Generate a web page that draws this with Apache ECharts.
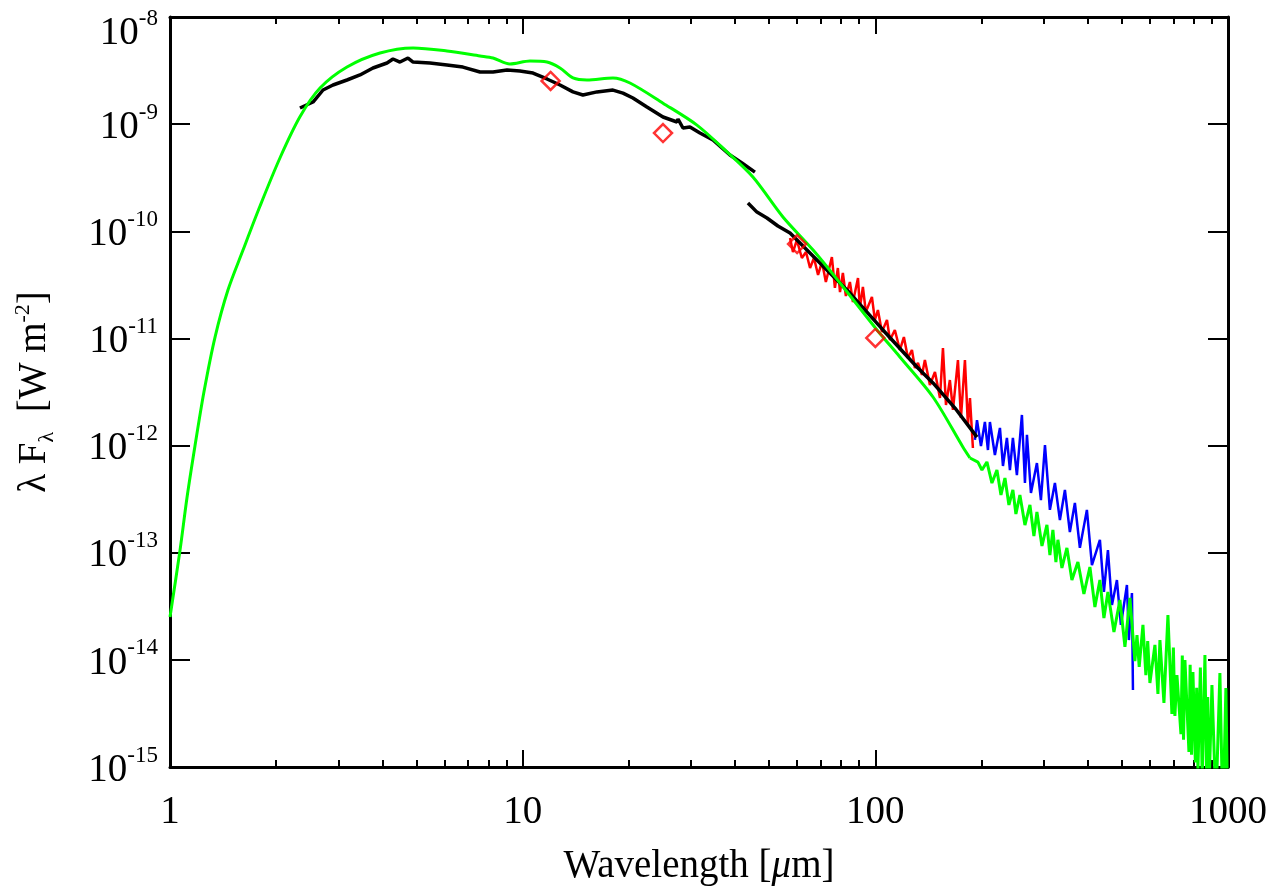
<!DOCTYPE html>
<html>
<head>
<meta charset="utf-8">
<script src="https://cdn.jsdelivr.net/npm/echarts@6/dist/echarts.min.js"></script>
<style>html,body{margin:0;padding:0;background:#fff}#c{width:1283px;height:894px}</style>
</head>
<body>
<div id="c"></div>
<script>
// ---------- tick values ----------
const xTickValues = [1, 10, 100, 1000];
const xMinorTickValues = [2,3,4,5,6,7,8,9,20,30,40,50,60,70,80,90,200,300,400,500,600,700,800,900];
const yTickValues = [1e-15, 1e-14, 1e-13, 1e-12, 1e-11, 1e-10, 1e-9, 1e-8];

// ---------- data: [wavelength (um), lambda*F_lambda (W m^-2)] ----------
const modelSmooth = [
  [1.0, 2.51e-14], [1.067, 1.04e-13], [1.117, 3.24e-13], [1.177, 9.9e-13],
  [1.248, 3.16e-12], [1.342, 1.03e-11], [1.460, 2.83e-11], [1.611, 6.68e-11],
  [1.80, 1.72e-10], [2.05, 4.83e-10], [2.336, 1.17e-9],
  [2.663, 2.17e-9], [3.176, 3.41e-9], [3.94, 4.61e-9], [4.89, 5.14e-9],
  [6.10, 4.82e-9], [7.57, 4.33e-9], [8.24, 4.14e-9], [9.20, 3.64e-9],
  [10.49, 3.88e-9], [11.72, 3.80e-9], [12.76, 3.34e-9], [13.89, 2.70e-9],
  [15.22, 2.58e-9], [18.03, 2.70e-9], [20.15, 2.42e-9], [25.0, 1.57e-9],
  [31.2, 9.8e-10], [37.7, 5.62e-10], [44.97, 3.21e-10], [54.7, 1.36e-10],
  [66.6, 6.68e-11], [79.4, 3.29e-11], [101.1, 1.20e-11], [117.4, 6.71e-12],
  [145.7, 2.84e-12], [177.1, 9.7e-13], [185.5, 7.66e-13]
];
const modelNoisy = [
  [185.5, 7.66e-13], [195.4, 7.0e-13], [200.6, 5.91e-13], [207.2, 7.03e-13],
  [214.1, 4.47e-13], [221.2, 5.91e-13], [227.1, 3.46e-13], [233.1, 4.98e-13],
  [239.2, 2.79e-13], [245.5, 3.85e-13], [250.4, 2.30e-13], [257.0, 3.46e-13],
  [265.6, 1.81e-13], [274.4, 2.79e-13], [281.6, 1.43e-13], [287.2, 2.40e-13],
  [296.8, 1.155e-13], [306.6, 1.82e-13], [312.6, 9.52e-14], [318.8, 1.63e-13],
  [325.1, 8.19e-14], [329.4, 1.32e-13], [338.1, 7.20e-14], [349.3, 1.11e-13],
  [360.9, 5.56e-14], [375.3, 8.19e-14], [390.3, 4.12e-14], [405.9, 7.36e-14],
  [419.4, 3.11e-14], [433.3, 5.56e-14], [444.8, 2.46e-14], [456.6, 4.30e-14],
  [474.9, 1.82e-14], [493.8, 3.62e-14], [510.2, 1.32e-14], [527.1, 3.78e-14],
  [544.5, 9.75e-15], [552.0, 1.70e-14], [560.0, 8.6e-15], [573.9, 2.12e-14],
  [585.0, 7.2e-15], [592.0, 1.50e-14], [600.6, 6.08e-15], [620.6, 1.38e-14],
  [632.9, 4.80e-15], [641.2, 1.53e-14], [658.2, 3.96e-15], [675.6, 2.62e-14],
  [693.4, 3.12e-15], [700.0, 1.30e-14], [707.0, 3.0e-15], [716.5, 7.22e-15],
  [735.5, 2.03e-15], [742.0, 1.10e-14], [748.0, 1.8e-15], [754.9, 9.96e-15],
  [774.9, 1.38e-15], [781.0, 9.0e-15], [788.0, 1.3e-15], [795.4, 7.71e-15],
  [808.0, 1.1e-15], [815.0, 5.5e-15], [821.8, 9.37e-16], [835.0, 8.5e-15],
  [845.0, 8.0e-16], [860.2, 1.11e-14], [870.0, 7.0e-16], [876.0, 4.5e-15],
  [883.0, 5.84e-16], [900.5, 5.82e-15], [924.1, 4.32e-16], [948.5, 7.53e-15],
  [967.2, 3.20e-16], [986.3, 5.46e-15], [1000, 2.58e-16]
];
const swsSpectrum = [
  [2.336, 1.414e-9], [2.544, 1.609e-9], [2.716, 2.083e-9], [2.899, 2.319e-9],
  [3.176, 2.582e-9], [3.457, 2.876e-9], [3.763, 3.342e-9], [4.124, 3.72e-9],
  [4.289, 4.055e-9], [4.488, 3.80e-9], [4.730, 4.14e-9], [4.89, 3.80e-9],
  [5.46, 3.72e-9], [6.10, 3.565e-9], [6.77, 3.41e-9], [7.57, 3.066e-9],
  [8.24, 3.066e-9], [9.03, 3.20e-9], [9.82, 3.13e-9], [10.70, 3.00e-9],
  [11.72, 2.64e-9], [12.76, 2.32e-9], [13.89, 2.00e-9], [14.82, 1.87e-9],
  [16.24, 2.00e-9], [18.03, 2.08e-9], [19.25, 1.95e-9], [20.54, 1.754e-9],
  [22.51, 1.445e-9], [25.0, 1.166e-9], [27.39, 1.047e-9], [27.57, 1.117e-9],
  [28.48, 9.20e-10], [29.81, 9.40e-10], [31.82, 8.27e-10], [34.64, 7.11e-10],
  [38.7, 5.15e-10], [41.86, 4.34e-10], [45.56, 3.57e-10]
];
const lwsBlack = [
  [43.53, 1.837e-10], [46.16, 1.51e-10], [49.28, 1.33e-10], [52.94, 1.12e-10],
  [57.3, 9.64e-11], [68.3, 5.40e-11], [84.7, 2.65e-11], [105.1, 1.20e-11],
  [131.2, 5.41e-12], [145.7, 3.84e-12], [168.2, 2.24e-12], [194.2, 1.20e-12]
];
const lwsRed = [
  [57.3, 8.66e-11], [58.4, 6.40e-11], [59.9, 8.29e-11], [61.9, 5.63e-11],
  [63.6, 6.40e-11], [65.3, 4.54e-11], [67.0, 5.63e-11], [68.8, 3.91e-11],
  [70.6, 5.17e-11], [72.4, 3.36e-11], [75.3, 5.75e-11], [76.8, 2.96e-11],
  [78.3, 4.54e-11], [79.4, 2.71e-11], [80.9, 4.08e-11], [82.5, 2.49e-11],
  [84.7, 3.36e-11], [86.4, 2.19e-11], [89.3, 3.66e-11], [90.4, 1.92e-11],
  [92.2, 3.02e-11], [94.0, 1.77e-11], [97.8, 2.44e-11], [99.7, 1.49e-11],
  [101.7, 1.84e-11], [104.4, 1.15e-11], [107.9, 1.49e-11], [110.0, 9.67e-12],
  [113.6, 1.20e-11], [117.4, 7.80e-12], [120.5, 1.03e-11], [123.7, 6.56e-12],
  [127.0, 7.80e-12], [129.5, 5.30e-12], [132.1, 5.90e-12], [135.6, 4.56e-12],
  [138.2, 6.29e-12], [142.8, 3.67e-12], [147.6, 4.86e-12], [152.5, 2.78e-12],
  [155.5, 8.14e-12], [158.6, 2.39e-12], [162.7, 4.09e-12], [166.0, 2.15e-12],
  [171.5, 6.29e-12], [174.9, 1.81e-12], [179.5, 6.29e-12], [183.0, 1.56e-12],
  [185.5, 2.78e-12], [189.1, 9.49e-13]
];
const submmBlue = [
  [191.6, 1.13e-12], [194.2, 1.73e-12], [199.3, 9.91e-13], [204.5, 1.66e-12],
  [208.6, 9.09e-13], [211.3, 1.66e-12], [218.3, 8.16e-13], [225.6, 1.46e-12],
  [230.1, 6.45e-13], [236.1, 1.18e-12], [240.8, 5.91e-13], [245.5, 1.18e-12],
  [252.0, 5.31e-13], [260.4, 1.93e-12], [265.6, 4.48e-13], [269.1, 1.26e-12],
  [276.2, 3.61e-13], [287.2, 6.87e-13], [294.8, 3.10e-13], [302.7, 1.01e-12],
  [312.6, 2.51e-13], [323.0, 4.48e-13], [333.7, 2.02e-13], [344.8, 3.85e-13],
  [356.1, 1.56e-13], [368.0, 2.91e-13], [380.2, 1.11e-13], [398.0, 2.51e-13],
  [411.3, 7.67e-14], [433.3, 1.32e-13], [444.8, 4.30e-14], [456.6, 1.06e-13],
  [468.7, 3.25e-14], [484.2, 5.56e-14], [497.0, 2.12e-14], [516.9, 5.00e-14],
  [523.6, 1.53e-14], [534.1, 4.21e-14], [537.6, 5.23e-15]
];
const irasPhotometry = [[12, 2.53e-9], [25, 8.26e-10], [60, 7.6e-11], [100, 1.01e-11]];

// ---------- chart ----------
const serif = 'Liberation Serif';
const chart = echarts.init(document.getElementById('c'));

function yLabel(v) {
  const e = Math.round(Math.log10(v));
  const s = '{b|10}{s|' + e + '}';
  return e === -8 ? '{g| }\n' + s : s;
}
const yRich = {
  b: {fontFamily: serif, fontSize: 39, lineHeight: 46, color: '#000', verticalAlign: 'bottom'},
  s: {fontFamily: serif, fontSize: 23, lineHeight: 23, color: '#000', verticalAlign: 'top'},
  g: {fontFamily: serif, fontSize: 10, lineHeight: 26}
};
const frameLine = {show: true, lineStyle: {color: '#000', width: 3}};

function xAxisDef(pos, major) {
  return {
    type: 'log', logBase: 10, min: 1, max: 1000, position: pos, gridIndex: 0,
    axisLine: major ? frameLine : {show: false},
    axisTick: {show: true, inside: true, length: major ? 17 : 7,
      lineStyle: {color: '#000', width: 2},
      customValues: major ? xTickValues : xMinorTickValues},
    axisLabel: {show: major && pos === 'bottom', margin: 26, customValues: xTickValues,
      fontFamily: serif, fontSize: 39, color: '#000',
      formatter: v => String(Math.round(v))},
    splitLine: {show: false}, minorTick: {show: false}, minorSplitLine: {show: false}
  };
}
function yAxisDef(pos) {
  return {
    type: 'log', logBase: 10, min: 1e-15, max: 1e-8, position: pos, gridIndex: 0,
    axisLine: frameLine,
    axisTick: {show: true, inside: true, length: 20, lineStyle: {color: '#000', width: 2},
      customValues: yTickValues},
    axisLabel: {show: pos === 'left', margin: 12, customValues: yTickValues,
      formatter: yLabel, rich: yRich},
    splitLine: {show: false}, minorTick: {show: false}
  };
}

const xAxes = [xAxisDef('bottom', true), xAxisDef('bottom', false), xAxisDef('top', true), xAxisDef('top', false)];
xAxes[0].name = '{t|Wavelength [}{i|μ}{t|m]}';
xAxes[0].nameLocation = 'middle';
xAxes[0].nameGap = 80;
xAxes[0].nameTextStyle = {rich: {
  t: {fontFamily: serif, fontSize: 39, color: '#000'},
  i: {fontFamily: serif, fontSize: 39, fontStyle: 'italic', color: '#000'}
}};
const yAxes = [yAxisDef('left'), yAxisDef('right')];
yAxes[0].name = '{t|λ F}{sub|λ}{t|  [W m}{sup|-2}{t|]}';
yAxes[0].nameLocation = 'middle';
yAxes[0].nameRotate = 90;
yAxes[0].nameGap = 112;
yAxes[0].nameTextStyle = {rich: {
  t: {fontFamily: serif, fontSize: 39, lineHeight: 46, color: '#000', verticalAlign: 'middle'},
  sub: {fontFamily: serif, fontSize: 22, lineHeight: 22, color: '#000', verticalAlign: 'bottom'},
  sup: {fontFamily: serif, fontSize: 22, lineHeight: 22, color: '#000', verticalAlign: 'top'}
}};

function lineSeries(name, data, color, width, z, smooth) {
  return {name, type: 'line', data, xAxisIndex: 0, yAxisIndex: 0, showSymbol: false,
    symbol: 'none', smooth: smooth || false, clip: true, z,
    lineStyle: {color, width}, silent: true};
}

chart.setOption({
  animation: false,
  backgroundColor: '#fff',
  grid: {left: 170, right: 55, top: 17, bottom: 127, containLabel: false, outerBoundsMode: 'none'},
  xAxis: xAxes,
  yAxis: yAxes,
  series: [
    lineSeries('LWS (red)', lwsRed, '#ff0000', 2.5, 2),
    lineSeries('Sub-mm (blue)', submmBlue, '#0000ff', 2.5, 2),
    lineSeries('LWS', lwsBlack, '#000000', 3.5, 3),
    lineSeries('SWS', swsSpectrum, '#000000', 3.5, 3),
    lineSeries('Model', modelSmooth, '#00ff00', 3, 4, 0.3),
    lineSeries('Model (noisy)', modelNoisy, '#00ff00', 3, 4),
    {name: 'IRAS', type: 'scatter', data: irasPhotometry, xAxisIndex: 0, yAxisIndex: 0,
      symbol: 'diamond', symbolSize: [18, 18], z: 5, silent: true,
      itemStyle: {color: 'rgba(0,0,0,0)', borderColor: '#ff0000', borderWidth: 2.5}}
  ]
});
</script>
</body>
</html>
